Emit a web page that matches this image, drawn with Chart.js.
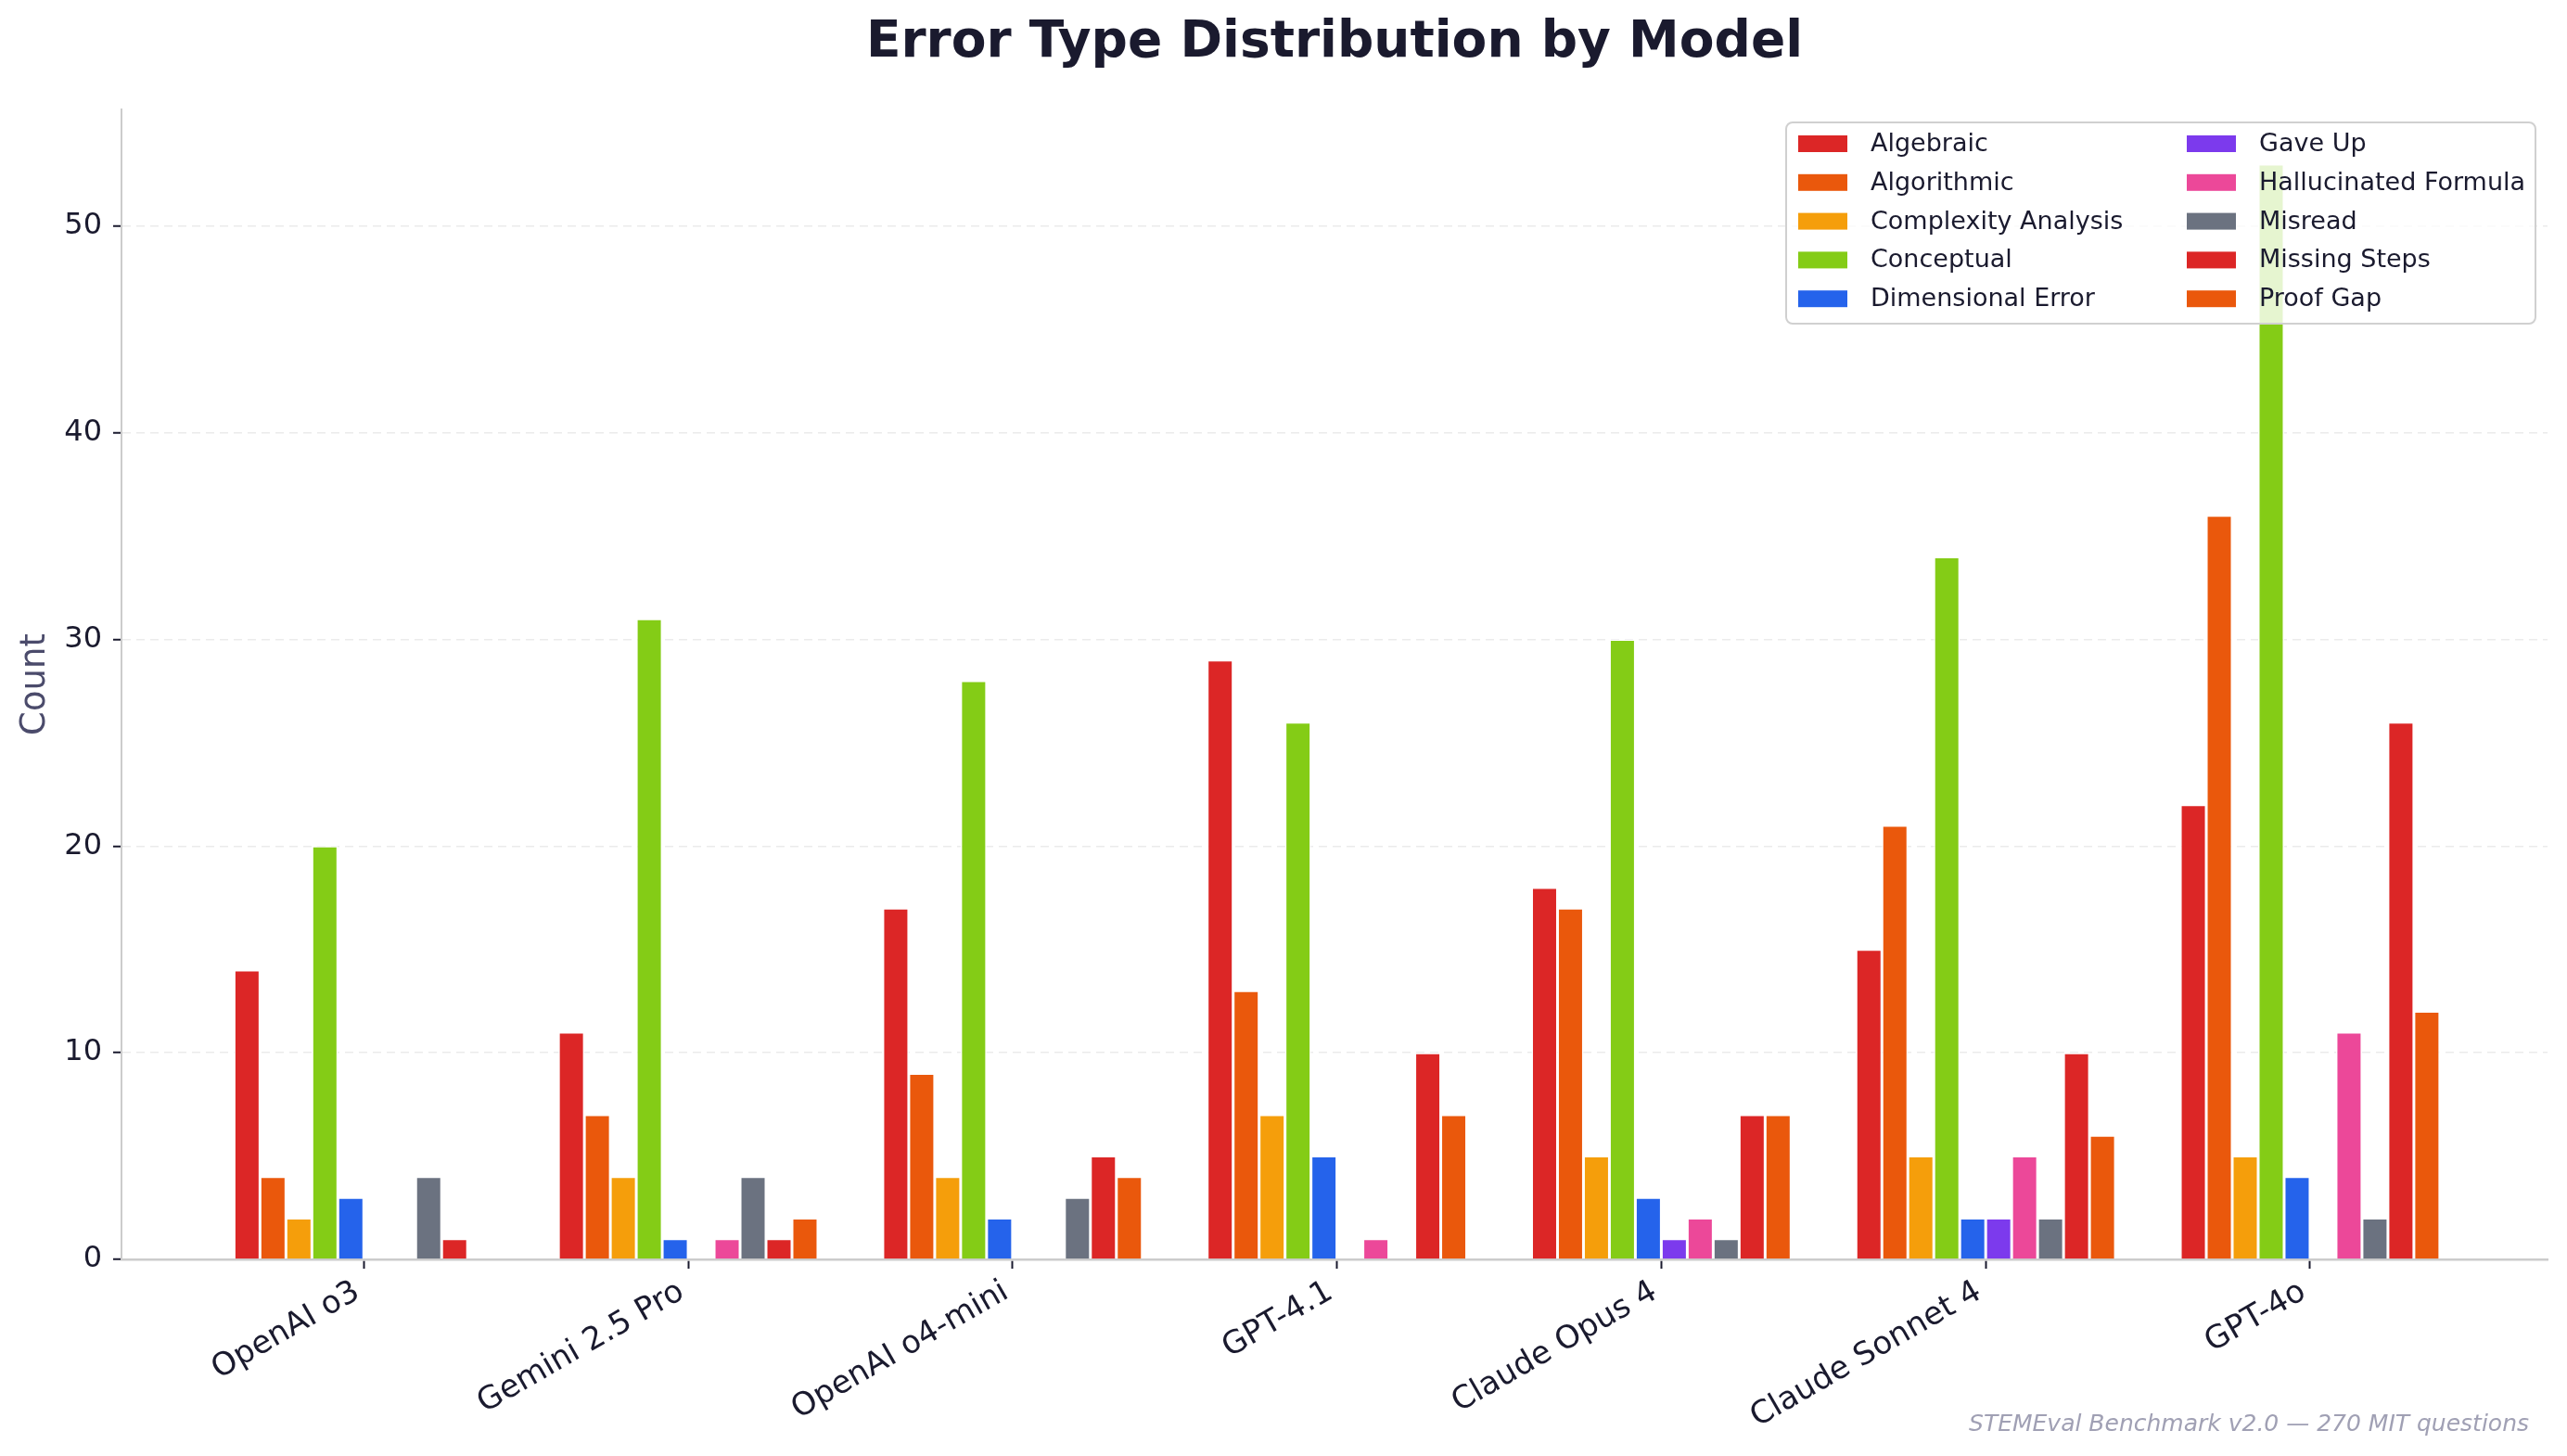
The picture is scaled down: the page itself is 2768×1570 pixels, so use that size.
<!DOCTYPE html>
<html>
<head>
<meta charset="utf-8">
<script src="https://cdn.jsdelivr.net/npm/chart.js@4.4.1/dist/chart.umd.min.js"></script>
<style>
  html, body { margin: 0; padding: 0; background: #fff; }
</style>
</head>
<body>
<canvas id="errorChart" width="2768" height="1570"></canvas>
<script>
// models on the x axis
const models = ['OpenAI o3', 'Gemini 2.5 Pro', 'OpenAI o4-mini', 'GPT-4.1', 'Claude Opus 4', 'Claude Sonnet 4', 'GPT-4o'];

// counts per error type, one value per model
const algebraic       = [14, 11, 17, 29, 18, 15, 22];
const algorithmic     = [4, 7, 9, 13, 17, 21, 36];
const complexity      = [2, 4, 4, 7, 5, 5, 5];
const conceptual      = [20, 31, 28, 26, 30, 34, 53];
const dimensional     = [3, 1, 2, 5, 3, 2, 4];
const gaveUp          = [0, 0, 0, 0, 1, 2, 0];
const hallucinated    = [0, 1, 0, 1, 2, 5, 11];
const misread         = [4, 4, 3, 0, 1, 2, 2];
const missingSteps    = [1, 1, 5, 10, 7, 10, 26];
const proofGap        = [0, 2, 4, 7, 7, 6, 12];

const errorTypes = ['Algebraic', 'Algorithmic', 'Complexity Analysis', 'Conceptual', 'Dimensional Error',
                    'Gave Up', 'Hallucinated Formula', 'Misread', 'Missing Steps', 'Proof Gap'];
const seriesValues = [algebraic, algorithmic, complexity, conceptual, dimensional,
                      gaveUp, hallucinated, misread, missingSteps, proofGap];
const colors = ['#dc2626', '#ea580c', '#f59e0b', '#84cc16', '#2563eb',
                '#7c3aed', '#ec4899', '#6b7280', '#dc2626', '#ea580c'];

const yTicks = [0, 10, 20, 30, 40, 50];
const footnote = 'STEMEval Benchmark v2.0 \u2014 270 MIT questions';

const FONT = "'DejaVu Sans', sans-serif";
const INK = '#1a1a2e';

const datasets = errorTypes.map((name, k) => ({
    label: name,
    data: seriesValues[k].map((v, i) => ({ x: i, y: v })),
    backgroundColor: colors[k],
    borderColor: '#ffffff',
    borderWidth: 1.5,
    categoryPercentage: 0.8,
    barPercentage: 1.0
}));

// legend inside the plot (top right) + footnote
const overlay = {
    id: 'overlay',
    afterDraw(chart) {
        const ctx = chart.ctx;
        const area = chart.chartArea;
        const boxW = 808, boxH = 217;
        const bx = area.right - 13 - boxW;
        const by = area.top + 14;
        ctx.save();
        ctx.beginPath();
        ctx.roundRect(bx, by, boxW, boxH, 7);
        ctx.fillStyle = 'rgba(255,255,255,0.8)';
        ctx.fill();
        ctx.lineWidth = 2;
        ctx.strokeStyle = '#d0d0d0';
        ctx.stroke();

        ctx.font = '27px ' + FONT;
        ctx.textBaseline = 'middle';
        ctx.textAlign = 'left';
        errorTypes.forEach((name, k) => {
            const col = Math.floor(k / 5);
            const row = k % 5;
            const sx = bx + 13 + col * 419;
            const cy = by + 23 + row * 41.8;
            ctx.fillStyle = colors[k];
            ctx.fillRect(sx, cy - 9, 53, 18);
            ctx.fillStyle = INK;
            ctx.fillText(name, sx + 78, cy + 1);
        });

        ctx.font = 'italic 25px ' + FONT;
        ctx.fillStyle = '#a0a0b4';
        ctx.textAlign = 'right';
        ctx.textBaseline = 'alphabetic';
        ctx.fillText(footnote, 2727, 1543);
        ctx.restore();
    }
};

new Chart(document.getElementById('errorChart'), {
    type: 'bar',
    data: { datasets: datasets },
    plugins: [overlay],
    options: {
        responsive: false,
        devicePixelRatio: 1,
        animation: false,
        layout: { padding: { left: 0, right: 21, top: 0, bottom: 0 } },
        plugins: {
            legend: { display: false },
            tooltip: { enabled: false },
            title: {
                display: true,
                text: 'Error Type Distribution by Model',
                fullSize: false,
                color: INK,
                font: { family: FONT, size: 55, weight: 'bold', lineHeight: 1.2 },
                padding: { top: 14, bottom: 38 }
            }
        },
        scales: {
            x: {
                type: 'linear',
                min: -0.747,
                max: 6.732,
                offset: false,
                afterBuildTicks(scale) {
                    scale.ticks = models.map((m, i) => ({ value: i }));
                },
                afterFit(scale) { scale.height = 212; },
                ticks: {
                    autoSkip: false,
                    maxRotation: 30,
                    minRotation: 30,
                    padding: 5,
                    labelOffset: -7,
                    color: INK,
                    font: { family: FONT, size: 34 },
                    callback: (v) => models[v]
                },
                grid: {
                    display: true,
                    drawOnChartArea: false,
                    drawTicks: true,
                    offset: false,
                    tickLength: 10,
                    tickWidth: 2,
                    tickColor: INK
                },
                border: { display: true, color: '#cccccc', width: 2.5 }
            },
            y: {
                min: 0,
                max: 55.65,
                afterBuildTicks(scale) {
                    scale.ticks = yTicks.map(v => ({ value: v }));
                },
                afterFit(scale) { scale.width = 131; },
                ticks: {
                    padding: 12,
                    color: INK,
                    font: { family: FONT, size: 32 }
                },
                grid: {
                    color: '#ebebeb',
                    lineWidth: 1.5,
                    drawTicks: true,
                    tickLength: 9,
                    tickWidth: 2,
                    tickColor: INK,
                    tickBorderDash: []
                },
                border: { display: true, color: '#cccccc', width: 2, dash: [9, 6] },
                title: {
                    display: true,
                    text: 'Count',
                    color: '#4b4b6b',
                    font: { family: FONT, size: 37 },
                    padding: { top: 16, bottom: 0 }
                }
            }
        }
    }
});
</script>
</body>
</html>
